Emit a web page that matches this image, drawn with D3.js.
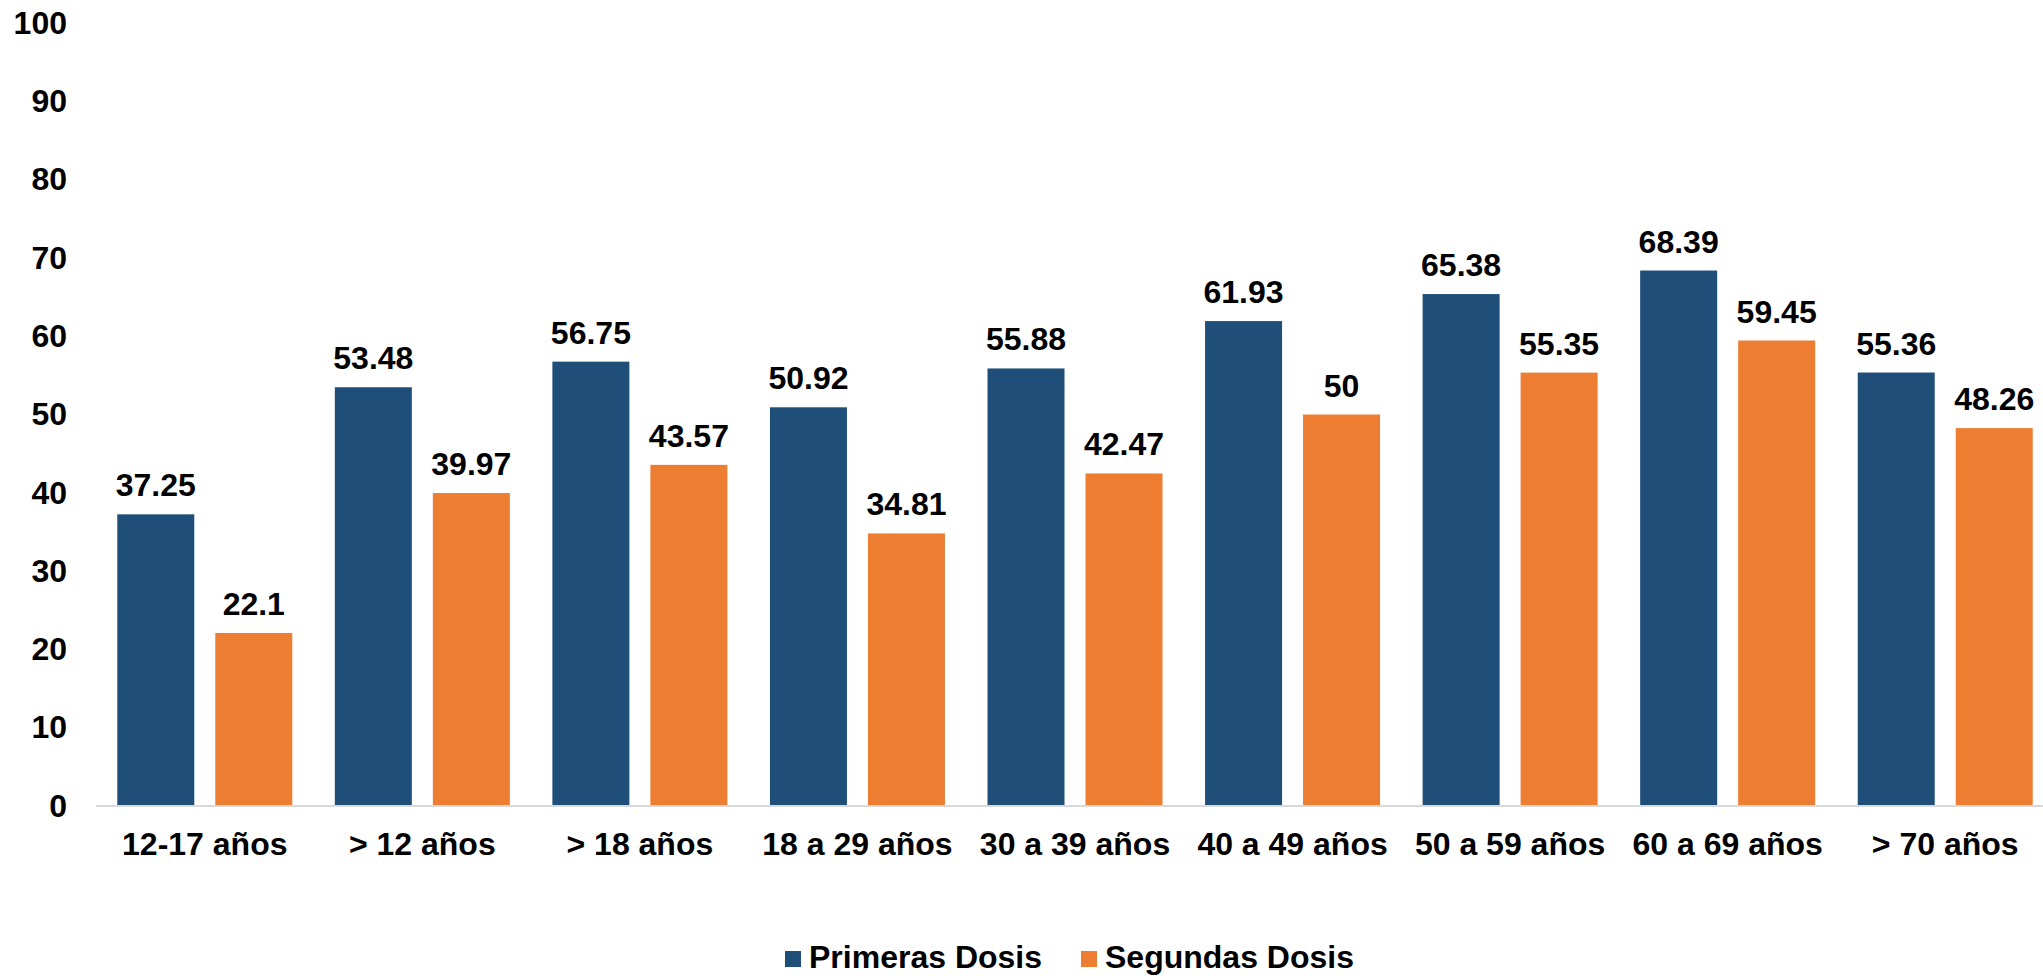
<!DOCTYPE html>
<html lang="es">
<head>
  <meta charset="UTF-8">
  <title>Primeras y Segundas Dosis por grupo de edad</title>
  <script src="https://d3js.org/d3.v7.min.js"></script>
  <style>
    body {
      margin: 0;
      background: #fff;
      font-family: "Liberation Sans", Arial, sans-serif;
    }
    .axis text {
      font-size: 32px;
      font-weight: bold;
      fill: #000;
    }
    .bar-label {
      font-size: 32px;
      font-weight: bold;
      fill: #000;
      text-anchor: middle;
    }
    .legend-text {
      font-size: 32px;
      font-weight: bold;
      fill: #000;
    }
    .baseline {
      stroke: #d9d9d9;
      stroke-width: 2;
    }
  </style>
</head>
<body>
  <div id="chart"></div>
  <script>
    // data
    const categories = ["12-17 años", "> 12 años", "> 18 años", "18 a 29 años", "30 a 39 años",
                        "40 a 49 años", "50 a 59 años", "60 a 69 años", "> 70 años"];
    const primeras = [37.25, 53.48, 56.75, 50.92, 55.88, 61.93, 65.38, 68.39, 55.36];
    const segundas = [22.1, 39.97, 43.57, 34.81, 42.47, 50, 55.35, 59.45, 48.26];
    const seriesNames = ["Primeras Dosis", "Segundas Dosis"];
    const seriesColors = ["#1f4e79", "#ed7d31"];
    const yTicks = [0, 10, 20, 30, 40, 50, 60, 70, 80, 90, 100];

    const svgWidth = 2043;
    const svgHeight = 976;

    const rows = categories.map((c, i) => ({
      cat: c,
      vals: [primeras[i], segundas[i]]
    }));

    const svg = d3.select("#chart").append("svg")
      .attr("width", svgWidth)
      .attr("height", svgHeight);

    const x0 = d3.scaleBand()
      .domain(categories)
      .range([96, 2054])
      .padding(0);

    // the two bars sit in the middle 175px of each group
    const groupPad = (x0.bandwidth() - 175) / 2;
    const x1 = d3.scaleBand()
      .domain(d3.range(seriesNames.length))
      .range([groupPad, groupPad + 175])
      .paddingInner(0.2143);

    const yScale = d3.scaleLinear()
      .domain([0, 100])
      .range([806, 23]);

    // y labels only, no lines
    svg.append("g")
      .attr("class", "axis")
      .attr("transform", "translate(69,0)")
      .call(d3.axisLeft(yScale).tickValues(yTicks).tickSize(0).tickPadding(2))
      .call(g => g.select(".domain").remove());

    const groups = svg.selectAll(".group")
      .data(rows)
      .enter()
      .append("g")
      .attr("class", "group")
      .attr("transform", d => `translate(${x0(d.cat)},0)`);

    groups.selectAll("rect")
      .data(d => d.vals.map((v, k) => ({ k: k, v: v })))
      .enter()
      .append("rect")
      .attr("x", d => x1(d.k))
      .attr("width", x1.bandwidth())
      .attr("y", d => yScale(d.v))
      .attr("height", d => yScale(0) - yScale(d.v))
      .attr("fill", d => seriesColors[d.k]);

    groups.selectAll(".bar-label")
      .data(d => d.vals.map((v, k) => ({ k: k, v: v })))
      .enter()
      .append("text")
      .attr("class", "bar-label")
      .attr("x", d => x1(d.k) + x1.bandwidth() / 2)
      .attr("y", d => yScale(d.v) - 18)
      .text(d => d.v);

    // category axis
    svg.append("line")
      .attr("class", "baseline")
      .attr("x1", x0.range()[0])
      .attr("x2", x0.range()[1])
      .attr("y1", yScale(0))
      .attr("y2", yScale(0));

    svg.append("g")
      .attr("class", "axis")
      .attr("transform", `translate(0,${yScale(0)})`)
      .call(d3.axisBottom(x0).tickSize(0).tickPadding(26))
      .call(g => g.select(".domain").remove());

    // legend
    const legendX = [785, 1081];
    const legend = svg.selectAll(".legend")
      .data(seriesNames)
      .enter()
      .append("g")
      .attr("class", "legend")
      .attr("transform", (d, i) => `translate(${legendX[i]},951)`);

    legend.append("rect")
      .attr("width", 16)
      .attr("height", 16)
      .attr("fill", (d, i) => seriesColors[i]);

    legend.append("text")
      .attr("class", "legend-text")
      .attr("x", 24)
      .attr("y", 17)
      .text(d => d);
  </script>
</body>
</html>
